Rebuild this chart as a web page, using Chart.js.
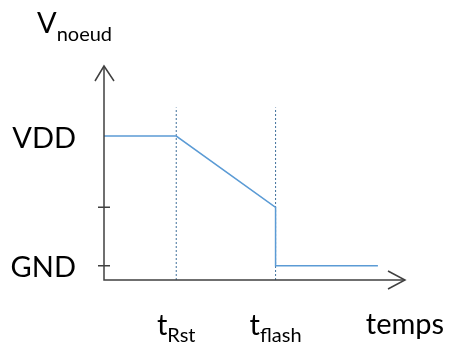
<!DOCTYPE html>
<html>
<head>
<meta charset="utf-8">
<script src="https://cdn.jsdelivr.net/npm/chart.js@4/dist/chart.umd.min.js"></script>
<style>
  html, body { margin: 0; padding: 0; background: #fff; }
  #wrap { width: 450px; height: 345px; }
</style>
</head>
<body>
<div id="wrap"><canvas id="chart" width="450" height="345"></canvas></div>
<script>
// Node voltage over time (GND = 0, VDD = 1)
const curveTime = [0, 2.4, 5.7, 5.7, 9.1];
const curveVolt = [1, 1, 0.45, 0, 0];

// Dashed event markers on the time axis
const markerTime = [2.4, 5.7];
const markerMain = ['t', 't'];
const markerSub = ['Rst', 'flash'];
const markerTop = 1.22;

// Voltage axis levels and tick marks
const levelNames = ['VDD', 'GND'];
const levelValues = [1, 0];
const tickValues = [0.45, 0];

const xRange = [0, 10];
const yRange = [-0.11, 1.54];

const axisColor = '#404040';
const lineColor = '#5B9BD5';
const dashColor = '#41719C';
const fontFamily = 'Lato, "Liberation Sans", sans-serif';

// Draws the arrow axes, ticks and the labels with subscripts
const sketchAxes = {
    id: 'sketchAxes',
    afterDatasetsDraw(chart) {
        const ctx = chart.ctx;
        const xs = chart.scales.x;
        const ys = chart.scales.y;
        const x0 = xs.getPixelForValue(xRange[0]);
        const x1 = xs.getPixelForValue(xRange[1]);
        const y0 = ys.getPixelForValue(yRange[0]);
        const y1 = ys.getPixelForValue(yRange[1]);

        ctx.save();
        ctx.strokeStyle = axisColor;
        ctx.lineWidth = 1.5;
        ctx.lineJoin = 'miter';
        ctx.beginPath();
        ctx.moveTo(x0, y1);
        ctx.lineTo(x0, y0);
        ctx.lineTo(x1, y0);
        ctx.stroke();

        // arrow heads
        ctx.beginPath();
        ctx.moveTo(x0 - 9, y1 + 15);
        ctx.lineTo(x0, y1);
        ctx.lineTo(x0 + 10, y1 + 15);
        ctx.moveTo(x1 - 17, y0 - 9);
        ctx.lineTo(x1, y0);
        ctx.lineTo(x1 - 17, y0 + 9);
        ctx.stroke();

        // ticks crossing the y axis
        ctx.beginPath();
        tickValues.forEach(v => {
            const py = ys.getPixelForValue(v);
            ctx.moveTo(x0 - 6, py);
            ctx.lineTo(x0 + 6, py);
        });
        ctx.stroke();

        ctx.fillStyle = '#000';
        ctx.textBaseline = 'alphabetic';

        // level labels
        ctx.font = '29px ' + fontFamily;
        ctx.textAlign = 'right';
        levelNames.forEach((name, i) => {
            const py = ys.getPixelForValue(levelValues[i]);
            ctx.fillText(name, x0 - 28, py + 11.5);
        });

        // time labels with subscript, centred on the markers
        ctx.textAlign = 'left';
        markerTime.forEach((t, i) => {
            const px = xs.getPixelForValue(t);
            ctx.font = '29px ' + fontFamily;
            const wMain = ctx.measureText(markerMain[i]).width;
            ctx.font = '20px ' + fontFamily;
            const wSub = ctx.measureText(markerSub[i]).width;
            const left = px - (wMain + wSub) / 2;
            ctx.font = '29px ' + fontFamily;
            ctx.fillText(markerMain[i], left, 335);
            ctx.font = '20px ' + fontFamily;
            ctx.fillText(markerSub[i], left + wMain, 342);
        });

        // axis titles
        ctx.font = '29px ' + fontFamily;
        ctx.textAlign = 'center';
        ctx.fillText('temps', x1, 334);

        ctx.textAlign = 'left';
        ctx.fillText('V', x0 - 67, 33);
        const wV = ctx.measureText('V').width;
        ctx.font = '20px ' + fontFamily;
        ctx.fillText('noeud', x0 - 67 + wV, 41);
        ctx.restore();
    }
};

const datasets = [{
    data: curveTime.map((t, i) => ({ x: t, y: curveVolt[i] })),
    showLine: true,
    borderColor: lineColor,
    borderWidth: 1.5,
    pointRadius: 0,
    order: 0
}];
markerTime.forEach(t => {
    datasets.push({
        data: [{ x: t, y: yRange[0] }, { x: t, y: markerTop }],
        showLine: true,
        borderColor: dashColor,
        borderWidth: 1,
        borderDash: [2, 2],
        pointRadius: 0,
        order: 1
    });
});

new Chart(document.getElementById('chart'), {
    type: 'scatter',
    data: { datasets },
    options: {
        responsive: false,
        animation: false,
        events: [],
        layout: { padding: { left: 104, right: 45, top: 66, bottom: 65 } },
        plugins: {
            legend: { display: false },
            tooltip: { enabled: false }
        },
        scales: {
            x: { type: 'linear', min: xRange[0], max: xRange[1], display: false },
            y: { type: 'linear', min: yRange[0], max: yRange[1], display: false }
        }
    },
    plugins: [sketchAxes]
});
</script>
</body>
</html>
